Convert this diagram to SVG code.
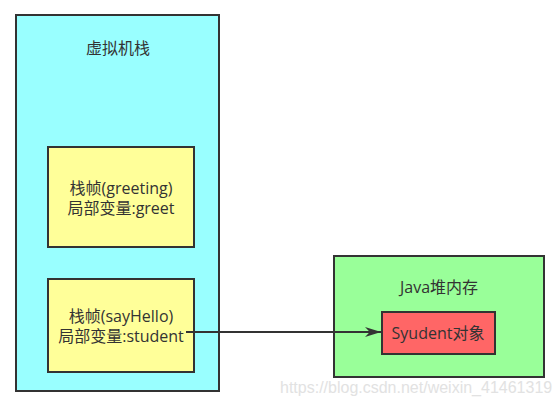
<svg xmlns="http://www.w3.org/2000/svg" width="560" height="406" viewBox="0 0 560 406">
<defs>
<style>
.box{stroke:#333;stroke-width:2}
.t{font-family:"Open Sans","Noto Sans CJK SC",sans-serif;font-size:16px;fill:#333;text-anchor:middle}
.wm{font-family:"Liberation Sans",Arial,sans-serif;font-size:16px;fill:#e2e2e2}
</style>
<marker id="arr" viewBox="0 0 10 10" refX="10" refY="5" markerWidth="16" markerHeight="10" markerUnits="userSpaceOnUse" orient="auto" preserveAspectRatio="none">
<path d="M0,0 L10,5 L0,10 L3,5 Z" fill="#333"/>
</marker>
</defs>
<rect width="560" height="406" fill="#fff"/>
<g id="stack">
<rect class="box" x="16" y="15" width="203" height="376" fill="#99ffff"/>
<text class="t" x="118" y="54">虚拟机栈</text>
</g>
<g id="frame-greeting">
<rect class="box" x="48" y="147" width="146" height="100" fill="#ffff99"/>
<text class="t" x="121" y="194">栈帧(greeting)</text>
<text class="t" x="121" y="214">局部变量:greet</text>
</g>
<g id="frame-sayhello">
<rect class="box" x="48" y="279" width="146" height="93" fill="#ffff99"/>
<text class="t" x="121" y="322">栈帧(sayHello)</text>
<text class="t" x="121" y="342">局部变量:student</text>
</g>
<g id="heap">
<rect class="box" x="334" y="256" width="210" height="121" fill="#99ff99"/>
<text class="t" x="439" y="293">Java堆内存</text>
</g>
<g id="student-object">
<rect class="box" x="382" y="312" width="113" height="42" fill="#ff6666"/>
<text class="t" x="438" y="339">Syudent对象</text>
</g>
<g id="connectors">
<line x1="186" y1="332" x2="381" y2="332" stroke="#333" stroke-width="2" marker-end="url(#arr)"/>
</g>
<text class="wm" x="280" y="393">https://blog.csdn.net/weixin_41461319</text>
</svg>
